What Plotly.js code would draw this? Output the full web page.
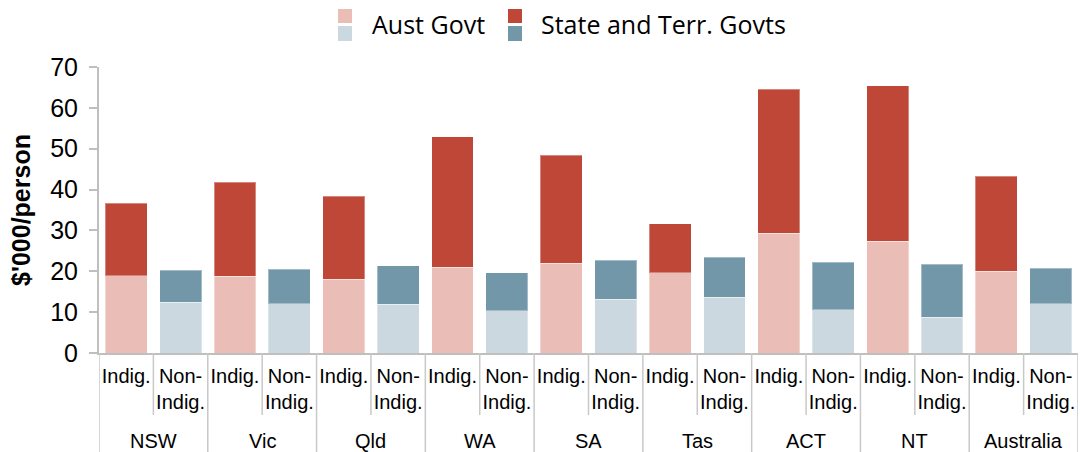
<!DOCTYPE html>
<html>
<head>
<meta charset="utf-8">
<script src="https://cdn.plot.ly/plotly-3.0.1.min.js"></script>
<style>html,body{margin:0;padding:0;background:#fff;}#chart{width:1080px;height:452px;}</style>
</head>
<body>
<div id="chart"></div>
<script>
const states = ['NSW','Vic','Qld','WA','SA','Tas','ACT','NT','Australia'];
const subcats = ['Indig.','Non-<br>Indig.'];
const indigAust  = [18.9, 18.8, 18.0, 21.0, 22.0, 19.6, 29.3, 27.3, 20.0];
const indigState = [17.8, 23.0, 20.4, 31.9, 26.4, 12.0, 35.3, 38.1, 23.3];
const nonAust    = [12.4, 12.1, 11.9, 10.4, 13.1, 13.6, 10.6, 8.7, 12.1];
const nonState   = [7.8, 8.4, 9.5, 9.3, 9.6, 9.8, 11.6, 13.0, 8.6];
const legendLabels = ['Aust Govt','State and Terr. Govts'];

const colors = {
  indigAust: '#EBBDB7', indigState: '#BE4737',
  nonAust: '#CBD8E0', nonState: '#7197A9'
};

// unique category keys, shown with the sub-category text
const xKeys = [], xText = [];
states.forEach(s => subcats.forEach(c => { xKeys.push(s + '|' + c); xText.push(c); }));

function series(indigVals, nonVals) {
  const out = [];
  states.forEach((s, i) => { out.push(indigVals ? indigVals[i] : null); out.push(nonVals ? nonVals[i] : null); });
  return out;
}

function bar(y, color, name) {
  return {
    type: 'bar', x: xKeys, y: y, name: name,
    marker: {color: color, line: {color: 'rgba(255,255,255,0.35)', width: 1}},
    showlegend: false, hoverinfo: 'y+name'
  };
}

const data = [
  bar(series(indigAust, null), colors.indigAust, 'Aust Govt'),
  bar(series(null, nonAust), colors.nonAust, 'Aust Govt'),
  bar(series(indigState, null), colors.indigState, 'State and Terr. Govts'),
  bar(series(null, nonState), colors.nonState, 'State and Terr. Govts')
];

const W = 979, H = 286, L = 99, T = 67;
const px = v => (v - L) / W;
const py = v => (T + H - v) / H;

const shapes = [
  {type:'rect', xref:'paper', yref:'paper', x0:px(338), x1:px(352), y0:py(23), y1:py(9), fillcolor:colors.indigAust, line:{width:0}},
  {type:'rect', xref:'paper', yref:'paper', x0:px(338), x1:px(352), y0:py(41), y1:py(26), fillcolor:colors.nonAust, line:{width:0}},
  {type:'rect', xref:'paper', yref:'paper', x0:px(508), x1:px(522), y0:py(23), y1:py(9), fillcolor:colors.indigState, line:{width:0}},
  {type:'rect', xref:'paper', yref:'paper', x0:px(508), x1:px(522), y0:py(41), y1:py(26), fillcolor:colors.nonState, line:{width:0}}
];
// category dividers below the axis
for (let k = 0; k <= xKeys.length; k++) {
  const groupEdge = (k % subcats.length === 0);
  shapes.push({type:'line', xref:'x', yref:'paper', x0:k - 0.5, x1:k - 0.5, y0:0, y1: groupEdge ? py(455) : py(415),
    line:{color:'#c8c8c8', width:1.5}});
}

const annotations = [
  {xref:'paper', yref:'paper', x:px(370), y:py(24), xanchor:'left', yanchor:'middle', text:legendLabels[0], showarrow:false,
   font:{family:'Open Sans, sans-serif', size:25, color:'#000'}},
  {xref:'paper', yref:'paper', x:px(539), y:py(24), xanchor:'left', yanchor:'middle', text:legendLabels[1], showarrow:false,
   font:{family:'Open Sans, sans-serif', size:25, color:'#000'}}
];
states.forEach((s, i) => {
  annotations.push({xref:'x', yref:'paper', x: i * subcats.length + 0.5, y: py(441), xanchor:'center', yanchor:'middle',
    text: s, showarrow:false, font:{size:20, color:'#000'}});
});

const layout = {
  width: 1080, height: 452,
  margin: {l: L, r: 1080 - L - W, t: T, b: 452 - T - H, pad: 0},
  paper_bgcolor: '#fff', plot_bgcolor: '#fff',
  barmode: 'stack', bargap: 0.23,
  font: {family: 'Liberation Sans, Arial, sans-serif', color: '#000'},
  xaxis: {
    type: 'category', automargin: false, tickangle: 0,
    tickmode: 'array', tickvals: xKeys, ticktext: xText,
    range: [-0.5, xKeys.length - 0.5],
    showline: true, linecolor: '#bfbfbf', linewidth: 2,
    ticks: '', showgrid: false,
    ticklabelstandoff: 4,
    tickfont: {size: 20, color: '#000'}
  },
  yaxis: {
    range: [0, 70], dtick: 10, automargin: false,
    showline: true, linecolor: '#bfbfbf', linewidth: 2,
    ticks: 'outside', ticklen: 8, tickwidth: 2, tickcolor: '#bfbfbf',
    showgrid: false, zeroline: false,
    ticklabelstandoff: 6,
    tickfont: {size: 25, color: '#000'},
    title: {text: "$'000/person", standoff: 12, font: {size: 25, color: '#000', family: 'Liberation Sans, Arial, sans-serif', weight: 'bold'}}
  },
  shapes: shapes,
  annotations: annotations
};

Plotly.newPlot('chart', data, layout, {displayModeBar: false, staticPlot: true});
</script>
</body>
</html>
